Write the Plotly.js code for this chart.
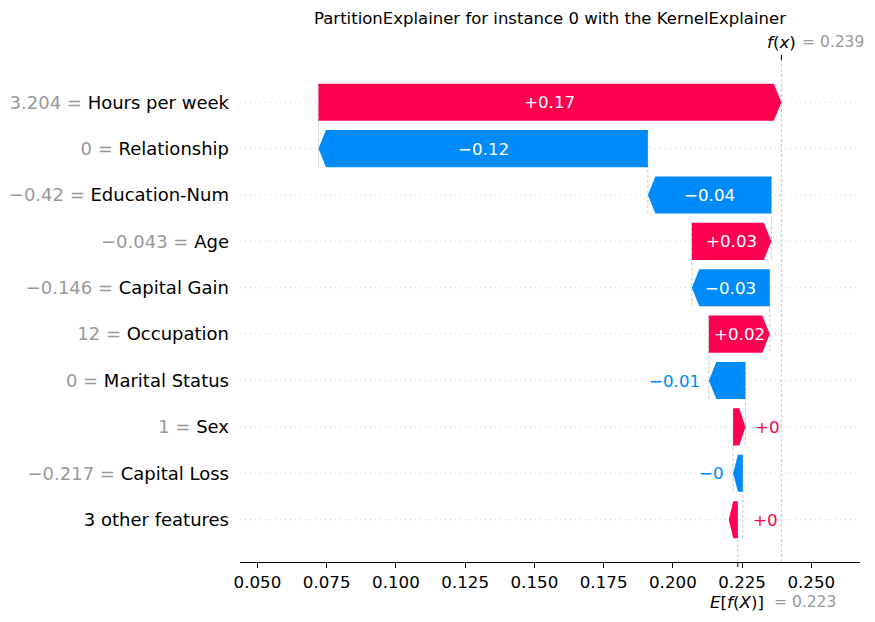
<!DOCTYPE html>
<html>
<head>
<meta charset="utf-8">
<script src="https://cdn.plot.ly/plotly-3.0.1.min.js"></script>
<style>html,body{margin:0;padding:0;background:#fff;}#chart{width:875px;height:622px;}</style>
</head>
<body>
<div id="chart"></div>
<script>
// ---- data ----
const features = ["Hours per week", "Relationship", "Education-Num", "Age", "Capital Gain",
                  "Occupation", "Marital Status", "Sex", "Capital Loss", "3 other features"];
const featureValues = ["3.204", "0", "\u22120.42", "\u22120.043", "\u22120.146",
                       "12", "0", "1", "\u22120.217", null];
const shapValues = [0.16714, -0.11894, -0.04459, 0.02872, -0.02814,
                    0.02200, -0.01320, 0.00444, -0.00350, 0.00180];
const baseValue = 0.22345;
const xTickVals = [0.050, 0.075, 0.100, 0.125, 0.150, 0.175, 0.200, 0.225, 0.250];
const titleText = "PartitionExplainer for instance 0 with the KernelExplainer";

// ---- style ----
const RED = "#ff0051", BLUE = "#008bfb", GRAY = "#999999";
const FONT = "DejaVu Sans";
const X_RANGE = [0.0437, 0.26757];
const Y_RANGE = [-0.912, 9.91];
const PLOT_W = 620, PLOT_H = 502;
const PX_PER_UNIT = PLOT_W / (X_RANGE[1] - X_RANGE[0]);
const HALF = 0.4;                 // half bar height (rows)
const HEAD = 7.5 / PX_PER_UNIT;   // arrow head length in data units
const OTHER_DRAWN = 9 / PX_PER_UNIT; // the "other features" arrow as drawn in the reference

const n = features.length;
const rowY = i => n - 1 - i;

// cumulative positions, from the base value upward (bottom row first)
const starts = new Array(n), ends = new Array(n);
let loc = baseValue;
for (let i = n - 1; i >= 0; i--) {
  starts[i] = loc;
  ends[i] = loc + shapValues[i];
  loc = ends[i];
}
const fx = loc;

function fmt(v) {
  let s = Math.abs(v).toFixed(2).replace(/0+$/, "").replace(/\.$/, "");
  return (v >= 0 ? "+" : "\u2212") + s;
}

const traces = [];
const shapes = [];
const annotations = [];

// dotted row lines
for (let i = 0; i < n; i++) {
  shapes.push({type: "line", xref: "paper", x0: 0, x1: 1, yref: "y", y0: rowY(i), y1: rowY(i),
    line: {color: "#cccccc", width: 1, dash: "1px,4px"}, layer: "below"});
}
// connectors between consecutive bars
for (let i = 0; i < n - 1; i++) {
  shapes.push({type: "line", xref: "x", yref: "y", x0: starts[i], x1: starts[i],
    y0: rowY(i) + HALF, y1: rowY(i) - 1 - HALF,
    line: {color: "#bbbbbb", width: 0.8, dash: "3px,2px"}, layer: "below"});
}
// f(x) and E[f(X)] lines + ticks
shapes.push({type: "line", xref: "x", yref: "paper", x0: fx, x1: fx, y0: 0, y1: 1,
  line: {color: "#bbbbbb", width: 0.8, dash: "3px,2px"}, layer: "below"});
shapes.push({type: "line", xref: "x", yref: "paper", x0: baseValue, x1: baseValue, y0: 0, y1: 1 / n,
  line: {color: "#bbbbbb", width: 0.8, dash: "3px,2px"}, layer: "below"});
shapes.push({type: "line", xref: "x", yref: "paper", x0: fx, x1: fx, y0: 1, y1: 1 + 5 / PLOT_H,
  line: {color: "#000", width: 1}});
shapes.push({type: "line", xref: "x", yref: "paper", x0: baseValue, x1: baseValue, y0: 0, y1: -5 / PLOT_H,
  line: {color: "#000", width: 1}});

// bars
for (let i = 0; i < n; i++) {
  const v = shapValues[i];
  const y = rowY(i);
  const isOther = featureValues[i] === null;
  let L, R, pointRight;
  if (isOther) { L = baseValue - OTHER_DRAWN; R = baseValue; pointRight = false; }
  else { L = Math.min(starts[i], ends[i]); R = Math.max(starts[i], ends[i]); pointRight = v >= 0; }
  const w = R - L;
  const hl = Math.min(HEAD, 0.5 * w);
  let xs, ys;
  if (pointRight) {
    xs = [L, R - hl, R, R - hl, L, L];
    ys = [y - HALF, y - HALF, y, y + HALF, y + HALF, y - HALF];
  } else {
    xs = [R, L + hl, L, L + hl, R, R];
    ys = [y - HALF, y - HALF, y, y + HALF, y + HALF, y - HALF];
  }
  const col = v >= 0 ? RED : BLUE;
  traces.push({type: "scatter", mode: "lines", x: xs, y: ys, fill: "toself",
    fillcolor: col, line: {width: 0, color: col}, hoverinfo: "skip", showlegend: false});

  // value label
  const wpx = Math.abs(v) * PX_PER_UNIT;
  const txt = fmt(v);
  const lo = Math.min(starts[i], ends[i]), hi = Math.max(starts[i], ends[i]);
  if (wpx > 55) {
    annotations.push({x: (lo + hi) / 2, y: y, xref: "x", yref: "y", text: txt, showarrow: false,
      font: {family: FONT, size: 16.7, color: "#ffffff"}, xanchor: "center", yanchor: "middle"});
  } else if (v >= 0) {
    annotations.push({x: hi, y: y, xref: "x", yref: "y", text: txt, showarrow: false, xshift: 8,
      font: {family: FONT, size: 16.7, color: RED}, xanchor: "left", yanchor: "middle"});
  } else {
    annotations.push({x: lo, y: y, xref: "x", yref: "y", text: txt, showarrow: false, xshift: -7,
      font: {family: FONT, size: 16.7, color: BLUE}, xanchor: "right", yanchor: "middle"});
  }
}

// f(x) / E[f(X)] labels
const topY = 1 + 18 / PLOT_H, botY = -40 / PLOT_H;
annotations.push({x: fx, y: topY, xref: "x", yref: "paper", text: "<i>f</i>(<i>x</i>)", showarrow: false,
  xanchor: "right", yanchor: "middle", xshift: 17, font: {family: FONT, size: 16.7, color: "#000"}});
annotations.push({x: fx, y: topY, xref: "x", yref: "paper", text: "= " + fx.toFixed(3), showarrow: false,
  xanchor: "left", yanchor: "middle", xshift: 19, font: {family: FONT, size: 15.5, color: GRAY}});
annotations.push({x: baseValue, y: botY, xref: "x", yref: "paper", text: "<i>E</i>[<i>f</i>(<i>X</i>)]", showarrow: false,
  xanchor: "right", yanchor: "middle", xshift: 28, font: {family: FONT, size: 16.7, color: "#000"}});
annotations.push({x: baseValue, y: botY, xref: "x", yref: "paper", text: "= " + baseValue.toFixed(3), showarrow: false,
  xanchor: "left", yanchor: "middle", xshift: 34, font: {family: FONT, size: 15.5, color: GRAY}});

// y tick labels
const yTickText = features.map((f, i) => featureValues[i] === null ? f :
  '<span style="color:' + GRAY + '">' + featureValues[i] + ' = </span>' + f);

const layout = {
  width: 875, height: 622,
  margin: {l: 240, r: 15, t: 60, b: 60, pad: 0},
  paper_bgcolor: "#ffffff", plot_bgcolor: "#ffffff",
  font: {family: FONT, color: "#000"},
  showlegend: false,
  title: {text: titleText, font: {family: FONT, size: 16.5, color: "#000"},
          x: 0.5 * (240 + 860) / 875, xanchor: "center", y: 1 - 18 / 622, yanchor: "middle"},
  xaxis: {range: X_RANGE, tickvals: xTickVals, ticktext: xTickVals.map(v => v.toFixed(3)),
          ticks: "outside", ticklen: 5, tickwidth: 1, tickcolor: "#000",
          showline: true, linecolor: "#000", linewidth: 1, showgrid: false, zeroline: false,
          tickfont: {family: FONT, size: 16.7, color: "#000"}, fixedrange: true},
  yaxis: {range: Y_RANGE, tickvals: features.map((f, i) => rowY(i)), ticktext: yTickText,
          ticks: "", showline: false, showgrid: false, zeroline: false, ticklabelstandoff: 10,
          tickfont: {family: FONT, size: 18, color: "#000"}, fixedrange: true},
  shapes: shapes,
  annotations: annotations
};

Plotly.newPlot("chart", traces, layout, {displayModeBar: false, staticPlot: true});
</script>
</body>
</html>
